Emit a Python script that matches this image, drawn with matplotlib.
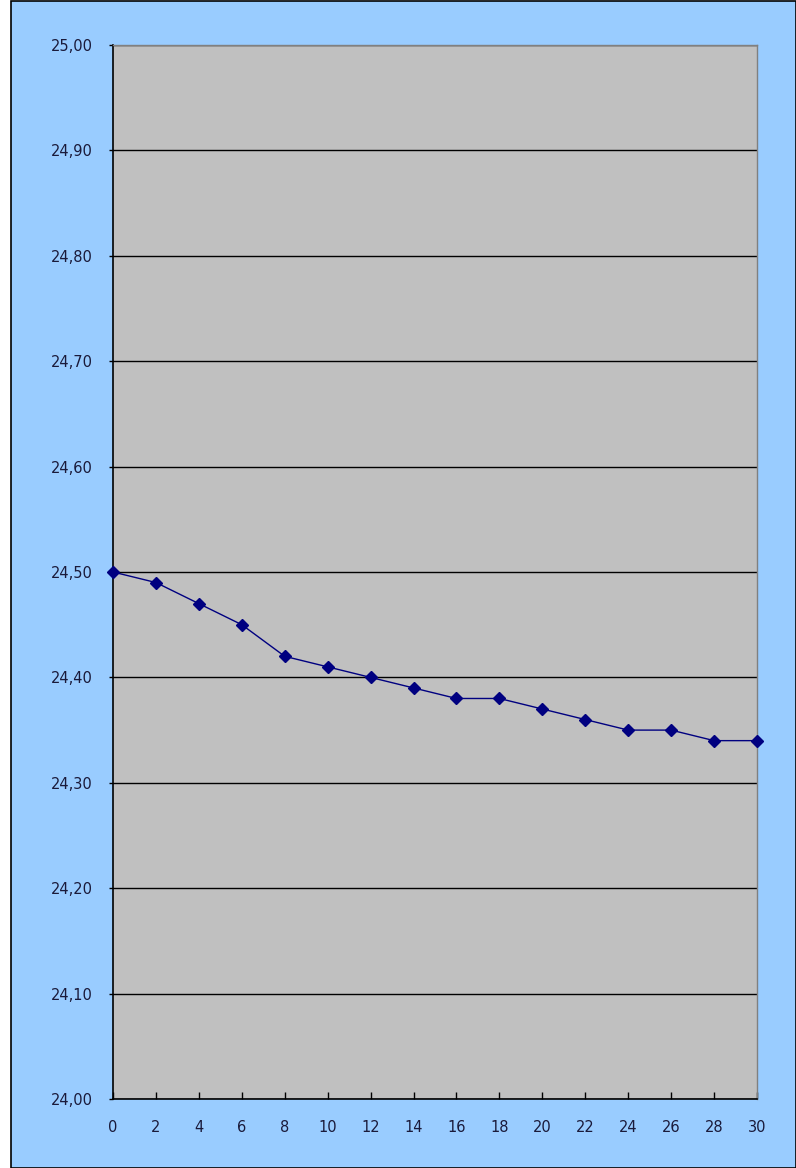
import matplotlib
matplotlib.use("Agg")
import matplotlib.pyplot as plt
from matplotlib.patches import Rectangle
from matplotlib.ticker import FuncFormatter

days = [0, 2, 4, 6, 8, 10, 12, 14, 16, 18, 20, 22, 24, 26, 28, 30]
values = [24.50, 24.49, 24.47, 24.45, 24.42, 24.41, 24.40, 24.39, 24.38,
          24.38, 24.37, 24.36, 24.35, 24.35, 24.34, 24.34]
y_ticks = [24.0, 24.1, 24.2, 24.3, 24.4, 24.5, 24.6, 24.7, 24.8, 24.9, 25.0]

W, H = 796, 1168
fig = plt.figure(figsize=(W / 100, H / 100), dpi=100)
fig.patch.set_facecolor("white")

# chart area background with border
fig.add_artist(Rectangle((11 / W, 0), (W - 11) / W, (H - 1) / H,
                         transform=fig.transFigure, facecolor="#99CCFF",
                         edgecolor="black", linewidth=1.2, zorder=0))

left, right, top, bottom = 113, 757, 45, 1099
ax = fig.add_axes([left / W, 1 - bottom / H, (right - left) / W, (bottom - top) / H])
ax.set_facecolor("#C0C0C0")

ax.plot(days, values, color="#000080", linewidth=1.0, marker="D",
        markersize=6, markerfacecolor="#000080", markeredgecolor="#000080",
        zorder=3, clip_on=False)

ax.set_xlim(0, 30)
ax.set_ylim(24.0, 25.0)
ax.set_xticks(days)
ax.set_yticks(y_ticks)
ax.yaxis.set_major_formatter(FuncFormatter(lambda v, p: f"{v:.2f}".replace(".", ",")))
ax.grid(axis="y", color="black", linewidth=1.0)
ax.set_axisbelow(True)

for s in ["top", "right"]:
    ax.spines[s].set_color("#808080")
    ax.spines[s].set_linewidth(1.0)
for s in ["left", "bottom"]:
    ax.spines[s].set_color("black")
    ax.spines[s].set_linewidth(1.2)

ax.tick_params(axis="x", direction="in", length=5, width=1, colors="black",
               labelsize=10.5, pad=15, labelcolor="#1a1a3a")
ax.tick_params(axis="y", direction="out", length=3, width=1, colors="black",
               labelsize=10.5, pad=11.5, labelcolor="#1a1a3a")

fig.savefig("out.png", dpi=100, facecolor=fig.get_facecolor())
